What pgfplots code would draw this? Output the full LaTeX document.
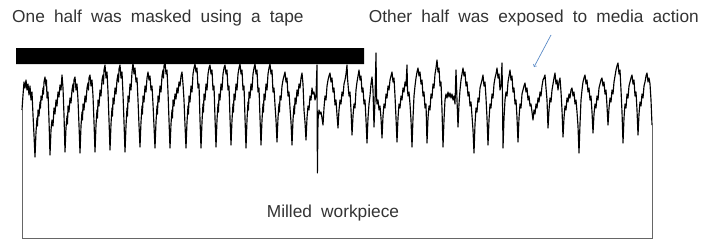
\documentclass[border=0pt]{standalone}
\usepackage{fontspec}
\setmainfont{Liberation Sans}
\newfontfamily\lbl{Liberation Sans}[WordSpace=1.9]
\usepackage{pgfplots}
\pgfplotsset{compat=1.18}
\definecolor{txt}{HTML}{333333}
\definecolor{arr}{HTML}{5A8AC6}
\begin{document}
\begin{tikzpicture}
\begin{axis}[
  x=1pt, y=1pt, y dir=reverse,
  xmin=0, xmax=706, ymin=0, ymax=241,
  hide axis, clip=false, scale only axis,
]
% bounding frame (invisible)
\addplot[draw=none] coordinates {(0,0) (706,241)};
% masking tape bar
\addplot[fill=black, draw=none] coordinates {(16,48) (364,48) (364,64) (16,64) (16,48)};
% workpiece outline
\addplot[draw=black!60, line width=0.8pt] coordinates {(22,110) (22,238) (652,238) (652,125)};
% surface profile
\addplot[black, line width=1.15pt, line join=round] coordinates {
(22,110) (23,95) (24,82) (25,88) (26,80) (27,90) (28,84) (29,95) (30,86) (31,100) (32,92) (33,115) (34,135)
(35,157) (36,132) (37,118) (37.5,126) (38,110) (39,116) (40,102) (40.5,108) (41,96) (42,100) (43,88) (43.5,94) (44,82) (45,77) (46,86) (46.5,80) (47,98) (48,92) (49,120)
(50,155) (51,130) (52,120) (53,126) (54,108) (55,114) (56,100) (57,106) (58,92) (59,97) (60,85) (61,90) (62,75) (63,88) (64,115)
(65,152) (66,128) (67,116) (67.5,124) (68,106) (69,112) (70,98) (71,103) (72,90) (73,84) (73.5,92) (74,80) (75,77) (76,90) (77,84) (78,100) (79,125)
(80,153) (81,126) (82,112) (82.5,120) (83,104) (84,110) (85,96) (86,102) (87,88) (88,83) (88.5,90) (89,78) (90,75) (91,86) (92,80) (93,96) (94,122)
(95,152) (96,125) (97,110) (97.5,118) (98,100) (99,106) (100,90) (101,96) (102,80) (103,75) (103.5,84) (104,70) (105,65) (106,78) (107,72) (108,92) (109,120)
(110,150) (111,124) (112,108) (112.5,116) (113,98) (114,104) (115,88) (116,94) (117,80) (118,74) (118.5,82) (119,69) (120,65) (121,78) (122,72) (123,94) (124,122)
(125,152) (126,126) (127,108) (127.5,116) (128,96) (129,102) (130,84) (131,90) (132,72) (133,63) (134,74) (135,68) (136,82) (137,78) (138,100) (139,125)
(140,147) (141,122) (142,106) (142.5,114) (143,96) (144,102) (145,86) (146,92) (147,78) (148,72) (149,80) (150,76) (151,90) (152,86) (153,104) (154,126)
(155,148) (156,122) (157,106) (157.5,114) (158,96) (159,102) (160,86) (161,92) (162,76) (163,70) (163.5,78) (164,66) (165,62) (166,74) (167,70) (168,92) (169,120)
(170,148) (171,124) (172,110) (172.5,118) (173,100) (174,106) (175,94) (176,99) (177,88) (178,93) (179,82) (180,86) (181,76) (182,72) (183,84) (184,100) (185,125)
(186,148) (187,122) (188,106) (188.5,114) (189,96) (190,102) (191,86) (192,92) (193,74) (194,68) (195,64) (196,72) (197,68) (198,88) (199,84) (200,120)
(201,148) (202,122) (203,104) (203.5,112) (204,94) (205,100) (206,84) (207,90) (208,74) (209,68) (210,65) (211,74) (212,70) (213,90) (214,86) (215,118)
(216,147) (217,120) (218,104) (218.5,112) (219,94) (220,100) (221,84) (222,90) (223,74) (224,68) (225,65) (226,74) (227,70) (228,90) (229,86) (230,118)
(231,145) (232,120) (233,104) (233.5,112) (234,94) (235,100) (236,84) (237,90) (238,74) (239,68) (240,64) (241,74) (242,70) (243,90) (244,86) (245,118)
(246,148) (247,120) (248,102) (248.5,110) (249,92) (250,98) (251,84) (252,90) (253,74) (254,68) (255,64) (256,74) (257,70) (258,92) (259,88) (260,118)
(261,145) (262,120) (263,104) (263.5,112) (264,94) (265,100) (266,84) (267,90) (268,74) (269,68) (270,64) (271,74) (272,70) (273,92) (274,88) (275,105) (276,120)
(277,142) (278,118) (279,104) (279.5,112) (280,96) (281,100) (282,86) (283,80) (284,76) (285,72) (286,82) (287,78) (288,96) (289,92) (290,108) (291,122)
(292,145) (293,120) (294,106) (294.5,114) (295,98) (296,104) (297,90) (298,96) (299,84) (300,88) (301,78) (302,73) (303,84) (304,110) (305,122)
(306,140) (307,118) (308,106) (309,110) (310,96) (311,100) (312,88) (313,94) (314,92) (315,100) (316,96) (317,65) (317.4,173) (318,120) (319,110) (320,114) (321,112) (322,118)
(323,125) (324,108) (325,96) (326,100) (327,86) (328,80) (329,76) (330,73) (331,82) (332,78) (333,92) (334,88) (335,105) (336,100) (337,115)
(338,128) (339,110) (340,100) (341,104) (342,92) (343,96) (344,84) (345,80) (346,74) (347,65) (347.5,78) (348,84) (349,96) (350,92) (351,110)
(352,135) (353,116) (354,104) (355,108) (356,90) (357,82) (358,76) (359,70) (360,80) (361,76) (362,92) (363,88) (364,104) (365,100) (366,120)
(367,143) (368,118) (369,104) (370,96) (371,84) (372,77) (373,90) (374,127) (375,100) (376,53) (376.5,96) (377,104) (378,100) (379,110) (380,106) (381,118)
(382,138) (383,116) (384,104) (385,108) (386,94) (387,98) (388,86) (389,90) (390,80) (391,76) (392,72) (393,82) (394,78) (395,96) (396,118)
(397,142) (398,118) (399,104) (400,108) (401,96) (402,100) (403,88) (404,92) (405,82) (406,86) (407,65) (407.5,90) (408,96) (409,92) (410,104) (411,120)
(412,147) (413,118) (414,96) (415,86) (416,78) (417,72) (418,68) (419,76) (420,72) (421,84) (422,80) (423,96) (424,92) (425,108) (426,104)
(427,143) (428,118) (429,106) (430,110) (431,94) (432,98) (433,84) (434,88) (435,74) (436,68) (437,60) (438,72) (439,68) (440,86) (441,82) (442,110)
(443,147) (444,120) (445,100) (446,94) (447,98) (448,92) (449,97) (450,93) (451,98) (452,94) (453,100) (454,96) (455,104) (456,70) (457,100)
(458,127) (459,104) (460,90) (461,80) (462,74) (463,68) (464,76) (465,72) (466,86) (467,82) (468,96) (469,92) (470,106) (471,102) (472,116) (473,130)
(474,153) (475,124) (476,108) (477,112) (478,98) (479,102) (480,88) (481,84) (482,80) (483,75) (484,86) (485,82) (486,98) (487,118)
(488,145) (489,120) (490,104) (491,108) (492,94) (493,98) (494,84) (495,78) (496,74) (497,68) (498,78) (499,74) (500,90) (501,86) (502,63) (502.5,100)
(503,148) (504,118) (505,100) (506,92) (507,96) (508,82) (509,76) (510,70) (511,80) (512,76) (513,92) (514,88) (515,104) (516,100) (517,118)
(518,142) (519,118) (520,104) (521,108) (522,94) (523,90) (524,86) (525,83) (526,92) (527,88) (528,100) (529,96) (530,106) (531,104) (532,112)
(533,120) (534,110) (535,114) (536,104) (537,108) (538,98) (539,102) (540,92) (541,96) (542,86) (543,80) (544,78) (545,75) (546,88) (547,100)
(548,128) (549,110) (550,98) (551,102) (552,90) (553,84) (554,78) (555,73) (556,84) (557,80) (558,90) (559,82) (560,78) (561,92) (562,110)
(563,137) (564,118) (565,106) (566,110) (567,98) (568,102) (569,94) (570,98) (571,90) (572,88) (573,96) (574,92) (575,104) (576,100) (577,112) (578,126)
(579,153) (580,124) (581,100) (582,90) (583,82) (584,78) (585,75) (586,84) (587,80) (588,92) (589,88) (590,100) (591,96) (592,112)
(593,133) (594,114) (595,104) (596,108) (597,96) (598,100) (599,88) (600,84) (601,80) (602,78) (603,86) (604,82) (605,94) (606,90) (607,106)
(608,125) (609,108) (610,98) (611,102) (612,90) (613,94) (614,82) (615,76) (616,70) (617,66) (618,63) (619,74) (620,70) (621,90) (622,112)
(623,143) (624,118) (625,104) (626,108) (627,94) (628,98) (629,86) (630,82) (631,78) (632,75) (633,84) (634,80) (635,96) (636,92) (637,110)
(638,135) (639,114) (640,102) (641,106) (642,94) (643,98) (644,86) (645,82) (646,76) (647,73) (648,82) (649,78) (650,84) (651,100) (652,125)
};
% labels
\node[anchor=base west, inner sep=0pt, text=txt, font=\lbl\fontsize{17.3}{20}\selectfont] at (axis cs:12,22) {One half was masked using a tape};
\node[anchor=base east, inner sep=0pt, text=txt, font=\lbl\fontsize{17.3}{20}\selectfont] at (axis cs:699,22) {Other half was exposed to media action};
\node[anchor=base, inner sep=0pt, text=txt, font=\lbl\fontsize{17.3}{20}\selectfont] at (axis cs:333,217) {Milled workpiece};
\draw[arr, line width=0.7pt, ->] (axis cs:551,35) -- (axis cs:534,67);
\end{axis}
\end{tikzpicture}
\end{document}
